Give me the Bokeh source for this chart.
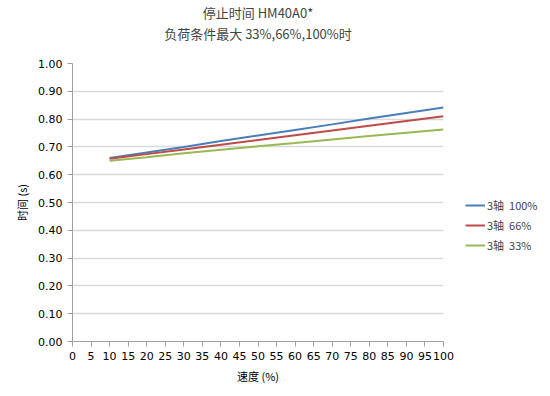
from bokeh.plotting import figure
from bokeh.models import Title, Legend, LegendItem, FixedTicker, NumeralTickFormatter, Range1d
from bokeh.embed import file_html
from bokeh.resources import INLINE

speed = [10, 20, 30, 40, 50, 60, 70, 80, 90, 100]
t100 = [0.660, 0.680, 0.700, 0.721, 0.741, 0.761, 0.781, 0.802, 0.822, 0.842]
t66 = [0.657, 0.674, 0.691, 0.708, 0.725, 0.742, 0.759, 0.776, 0.793, 0.810]
t33 = [0.650, 0.663, 0.677, 0.690, 0.702, 0.714, 0.727, 0.739, 0.751, 0.763]
labels = ["3轴  100%", "3轴  66%", "3轴  33%"]
colors = ["#4A7EBB", "#BE4B48", "#98B954"]
title1 = "停止时间 HM40A0*"
title2 = "负荷条件最大 33%,66%,100%时"

CJK = "Noto Sans CJK SC"
LAT = "DejaVu Sans"

p = figure(frame_width=371, frame_height=278, output_backend="svg", toolbar_location=None,
           x_range=Range1d(0, 100), y_range=Range1d(0, 1),
           min_border_left=72, min_border_right=99, min_border_bottom=46, min_border_top=8)
p.outline_line_color = None
p.background_fill_color = "white"

p.title.text = title1
p.title.align = "center"
p.title.text_font = CJK
p.title.text_font_size = "13px"
p.title.text_font_style = "normal"
p.title.offset = 0
p.title.standoff = 0
p.add_layout(Title(text=" ", align="center", text_font=CJK, text_font_size="13px",
                   standoff=0), "above")
p.add_layout(Title(text=title2, align="center", text_font=CJK, text_font_size="13px",
                   text_font_style="normal", standoff=0), "above")

p.xaxis.ticker = FixedTicker(ticks=list(range(0, 101, 5)))
p.yaxis.ticker = FixedTicker(ticks=[i / 10 for i in range(11)])
p.yaxis.formatter = NumeralTickFormatter(format="0.00")
for ax in (p.xaxis, p.yaxis):
    ax.axis_line_color = "#A0A0A0"
    ax.major_tick_line_color = "#A0A0A0"
    ax.minor_tick_line_color = None
    ax.major_tick_in = 0
    ax.major_tick_out = 5
    ax.major_label_text_font = LAT
    ax.major_label_text_font_size = "11px"
    ax.major_label_text_color = "black"
    ax.axis_label_text_font = CJK
    ax.axis_label_text_font_size = "11px"
    ax.axis_label_text_font_style = "normal"
    ax.axis_label_text_color = "black"
p.xaxis.axis_label = "速度 (%)"
p.yaxis.axis_label = "时间 (s)"
p.xgrid.grid_line_color = None
p.ygrid.grid_line_color = "#D9D9D9"
p.ygrid.grid_line_width = 1.5

rs = []
for ys, c in zip([t100, t66, t33], colors):
    rs.append(p.line(speed, ys, line_color=c, line_width=2))

legend = Legend(items=[LegendItem(label=l, renderers=[r]) for l, r in zip(labels, rs)],
                location=(22, 88), border_line_color=None, background_fill_alpha=0,
                label_text_font=CJK, label_text_font_size="11px", glyph_width=20,
                glyph_height=12, spacing=4, label_standoff=2, padding=4, margin=0)
p.add_layout(legend, "right")

open("out.html", "w").write(file_html(p, INLINE))
